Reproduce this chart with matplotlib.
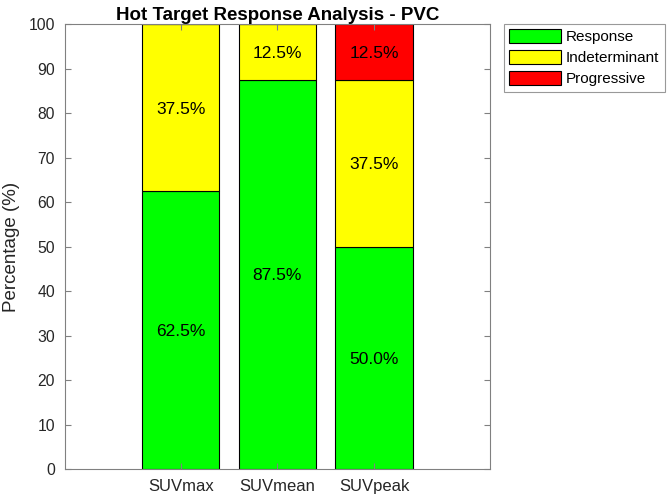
import matplotlib
matplotlib.use("Agg")
import matplotlib.pyplot as plt
import numpy as np

plt.rcParams['font.family'] = ['Liberation Sans', 'DejaVu Sans']

categories = ['SUVmax', 'SUVmean', 'SUVpeak']
response = [62.5, 87.5, 50.0]
indeterminant = [37.5, 12.5, 37.5]
progressive = [0.0, 0.0, 12.5]
series_names = ['Response', 'Indeterminant', 'Progressive']
colors = ['#00FF00', '#FFFF00', '#FF0000']
yticks = list(range(0, 101, 10))

fig = plt.figure(figsize=(6.71, 5.01), dpi=100)
ax = fig.add_axes([64.7/671, 1-469/501, (490-64.7)/671, (469-24.3)/501])

x = np.arange(1, len(categories) + 1)
bottom = np.zeros(len(categories))
for vals, name, col in zip([response, indeterminant, progressive], series_names, colors):
    vals = np.array(vals)
    ax.bar(x, vals, width=0.8, bottom=bottom, color=col, edgecolor='black',
           linewidth=0.8, label=name)
    for xi, b, v in zip(x, bottom, vals):
        if v > 0:
            ax.text(xi, b + v / 2, f'{v:.1f}%', ha='center', va='center_baseline',
                    fontsize=12.5, color='black')
    bottom = bottom + vals

ax.set_xlim(-0.2, 4.2)
ax.set_ylim(0, 100)
ax.set_xticks(x)
ax.set_xticklabels(categories)
ax.set_yticks(yticks)
gray = '#262626'
for s in ax.spines.values():
    s.set_color('#808080')
    s.set_linewidth(0.8)
ax.tick_params(direction='in', top=True, right=True, length=4, width=0.8,
               colors='#808080', labelcolor=gray, labelsize=11.3, pad=7)
ax.tick_params(axis='x', labelsize=12)
ax.set_ylabel('Percentage (%)', fontsize=13.5, color=gray, labelpad=6)
ax.set_title('Hot Target Response Analysis - PVC', fontsize=13.5,
             fontweight='bold', color='black', pad=3)

leg = ax.legend(loc='upper left', bbox_to_anchor=(504/671, 1-24/501),
                bbox_transform=fig.transFigure, fontsize=11, frameon=True,
                fancybox=False, edgecolor='#808080', borderaxespad=0,
                handlelength=3.4, handleheight=1.0, labelspacing=0.38,
                borderpad=0.35, handletextpad=0.3)
leg.get_frame().set_linewidth(0.8)

fig.savefig('out.png', dpi=100)
